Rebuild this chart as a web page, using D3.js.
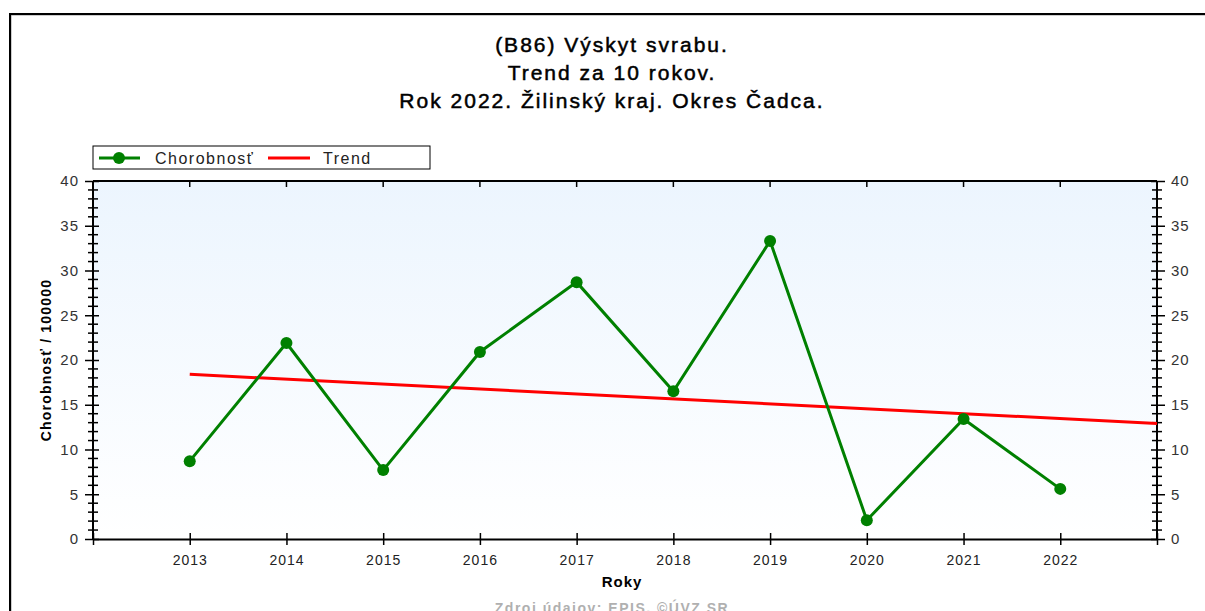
<!DOCTYPE html>
<html>
<head>
<meta charset="utf-8">
<script src="https://cdn.jsdelivr.net/npm/d3@7"></script>
<style>
  body { margin: 0; background: #fff; }
  svg { display: block; font-family: "Liberation Sans", Arial, sans-serif; }
</style>
</head>
<body>
<div id="chart-area"></div>
<script>
var years = [2013, 2014, 2015, 2016, 2017, 2018, 2019, 2020, 2021, 2022];
var rates = [8.7, 21.9, 7.7, 20.9, 28.7, 16.5, 33.3, 2.1, 13.4, 5.6];
var trendYears = [2013, 2023];
var trendValues = [18.4, 12.9];
var titleLines = ["(B86) Výskyt svrabu.", "Trend za 10 rokov.", "Rok 2022. Žilinský kraj. Okres Čadca."];

var margin = {left: 93, top: 181, right: 48, bottom: 72};
var width = 1205 - margin.left - margin.right,
    height = 611 - margin.top - margin.bottom;

var root = d3.select("#chart-area").append("svg")
    .attr("width", 1205)
    .attr("height", 611);

// outer frame
root.append("rect")
    .attr("x", 11).attr("y", 15).attr("width", 1220).attr("height", 640)
    .style("fill", "none").style("stroke", "#999").style("stroke-width", 1);
root.append("rect")
    .attr("x", 10).attr("y", 14).attr("width", 1220).attr("height", 640)
    .style("fill", "none").style("stroke", "#000").style("stroke-width", 2);

var defs = root.append("defs");
var grad = defs.append("linearGradient")
    .attr("id", "bg").attr("x1", 0).attr("y1", 0).attr("x2", 0).attr("y2", 1);
grad.append("stop").attr("offset", "0%").attr("stop-color", "#ecf5fe");
grad.append("stop").attr("offset", "100%").attr("stop-color", "#ffffff");

// title
root.append("text")
    .attr("text-anchor", "middle")
    .style("font-size", "21px")
    .style("letter-spacing", "2px")
    .style("fill", "#000").style("stroke", "#000").style("stroke-width", 0.5)
    .selectAll("tspan").data(titleLines).enter().append("tspan")
    .attr("x", 612)
    .attr("y", function(d, i) { return 52 + i * 28; })
    .text(function(d) { return d; });

var svg = root.append("g")
    .attr("transform", "translate(" + margin.left + "," + margin.top + ")");

var xScale = d3.scaleLinear().domain([2012, 2023]).range([0, width]);
var yScale = d3.scaleLinear().domain([0, 40]).range([height, 0]);

svg.append("rect")
    .attr("width", width).attr("height", height)
    .style("fill", "url(#bg)");

// top border with inward ticks
svg.append("line").attr("x1", 0).attr("x2", width).attr("y1", 0).attr("y2", 0)
    .style("stroke", "#000").style("stroke-width", 2);
svg.selectAll(".ttick").data(d3.range(2013, 2023)).enter().append("line")
    .attr("x1", function(d) { return xScale(d); })
    .attr("x2", function(d) { return xScale(d); })
    .attr("y1", 0).attr("y2", 6)
    .style("stroke", "#000").style("stroke-width", 1.5);

// bottom axis
var xAxis = d3.axisBottom(xScale)
    .tickValues(d3.range(2012, 2024))
    .tickFormat(function(d) { return (d >= 2013 && d <= 2022) ? d : ""; })
    .tickSize(6).tickSizeOuter(0).tickPadding(10);
var gx = svg.append("g").attr("transform", "translate(0," + height + ")").call(xAxis);
gx.select(".domain").style("stroke-width", 2);
gx.selectAll(".tick line").attr("y1", -6).style("stroke-width", 1.5);
gx.selectAll(".tick text").style("font-size", "14px").style("letter-spacing", "1px").style("fill", "#222");

function yAxisStyle(g) {
  g.select(".domain").remove();
  g.append("line").attr("y1", 0).attr("y2", height).style("stroke", "#000").style("stroke-width", 2);
  g.selectAll(".tick text").style("font-size", "15px").style("letter-spacing", "1px").style("fill", "#333");
  g.selectAll(".tick line").style("stroke-width", 1.5);
}

var minor = d3.range(0, 41).filter(function(d) { return d % 5 !== 0; });
function minorTicks(g) {
  g.selectAll(".minor").data(minor).enter().append("line")
    .attr("x1", -5).attr("x2", 5)
    .attr("y1", function(d) { return yScale(d); })
    .attr("y2", function(d) { return yScale(d); })
    .style("stroke", "#000").style("stroke-width", 1.5);
}

var gyl = svg.append("g").call(d3.axisLeft(yScale).tickValues(d3.range(0, 41, 5)).tickSize(8).tickPadding(6));
yAxisStyle(gyl);
gyl.selectAll(".tick line").attr("x2", -8).attr("x1", 6);
minorTicks(gyl);

var gyr = svg.append("g").attr("transform", "translate(" + width + ",0)")
    .call(d3.axisRight(yScale).tickValues(d3.range(0, 41, 5)).tickSize(8).tickPadding(6));
yAxisStyle(gyr);
gyr.selectAll(".tick line").attr("x1", -6).attr("x2", 8);
minorTicks(gyr);

// trend
var trendLine = d3.line()
    .x(function(d, i) { return xScale(trendYears[i]); })
    .y(function(d) { return yScale(d); });
svg.append("path").datum(trendValues)
    .attr("d", trendLine)
    .style("fill", "none").style("stroke", "#ff0000").style("stroke-width", 3);

// series
var line = d3.line()
    .x(function(d, i) { return xScale(years[i]); })
    .y(function(d) { return yScale(d); });
svg.append("path").datum(rates)
    .attr("d", line)
    .style("fill", "none").style("stroke", "#008000").style("stroke-width", 3);

svg.selectAll("circle").data(rates).enter().append("circle")
    .attr("cx", function(d, i) { return xScale(years[i]); })
    .attr("cy", function(d) { return yScale(d); })
    .attr("r", 6)
    .style("fill", "#008000");

// axis titles
root.append("text")
    .attr("transform", "translate(51," + (margin.top + height / 2) + ") rotate(-90)")
    .attr("text-anchor", "middle")
    .style("font-size", "14px").style("font-weight", "bold").style("letter-spacing", "1.2px")
    .text("Chorobnosť / 100000");
root.append("text")
    .attr("x", 622).attr("y", 587)
    .attr("text-anchor", "middle")
    .style("font-size", "15px").style("font-weight", "bold").style("letter-spacing", "1px")
    .text("Roky");
root.append("text")
    .attr("x", 612).attr("y", 613)
    .attr("text-anchor", "middle")
    .style("font-size", "14px").style("font-weight", "bold").style("letter-spacing", "1.5px")
    .style("fill", "#b0b0b0")
    .text("Zdroj údajov: EPIS, ©ÚVZ SR");

// legend
var legend = root.append("g").attr("transform", "translate(93,146)");
legend.append("rect").attr("width", 337).attr("height", 23)
    .style("fill", "#fff").style("stroke", "#000").style("stroke-width", 1);
legend.append("line").attr("x1", 6).attr("x2", 47).attr("y1", 12).attr("y2", 12)
    .style("stroke", "#008000").style("stroke-width", 3);
legend.append("circle").attr("cx", 26).attr("cy", 12).attr("r", 6).style("fill", "#008000");
legend.append("text").attr("x", 62).attr("y", 18)
    .style("font-size", "16px").style("letter-spacing", "1.5px").style("fill", "#222")
    .text("Chorobnosť");
legend.append("line").attr("x1", 175).attr("x2", 217).attr("y1", 12).attr("y2", 12)
    .style("stroke", "#ff0000").style("stroke-width", 3);
legend.append("text").attr("x", 230).attr("y", 18)
    .style("font-size", "16px").style("letter-spacing", "1.5px").style("fill", "#222")
    .text("Trend");
</script>
</body>
</html>
